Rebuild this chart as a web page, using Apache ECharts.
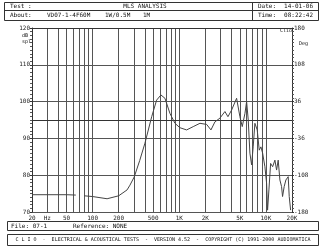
<!DOCTYPE html>
<html><head><meta charset="utf-8">
<script src="https://cdn.jsdelivr.net/npm/echarts@6/dist/echarts.min.js"></script>
<style>html,body{margin:0;padding:0;background:#fff}#c{width:325px;height:250px}</style>
</head><body><div id="c"></div>
<script>
// ---- data (frequency in Hz, level in dB SPL); null = gap in trace
const freqHz = [20, 30, 40, 50, 64, 70, 80, 100, 147, 200, 250, 270, 302, 350, 402, 481, 548, 615, 684, 781, 892, 1019, 1217, 1450, 1733, 2070, 2322, 2582, 2946, 3366, 3647, 4019, 4590, 5012, 5333, 5728, 5990, 6254, 6535, 6839, 7131, 7464, 7938, 8374, 8758, 9162, 9735, 10185, 10450, 10831, 11332, 11955, 12700, 13280, 13860, 14500, 15160, 15560, 16250, 17000, 18080, 18580, 19280];
const splDb = [74.7, 74.7, 74.7, 74.7, 74.6, null, 74.4, 74.2, 73.6, 74.4, 76.0, 77.3, 79.5, 84.0, 88.7, 95.9, 100.4, 101.8, 100.9, 96.8, 94.1, 92.9, 92.3, 93.2, 94.1, 93.8, 92.3, 94.5, 95.5, 97.3, 95.9, 97.7, 100.9, 95.9, 93.2, 96.8, 100.0, 95.0, 86.0, 82.8, 87.7, 94.1, 92.3, 86.8, 87.7, 86.0, 82.3, 77.8, 70.5, 76.0, 83.2, 82.3, 84.1, 81.4, 84.1, 78.7, 76.9, 74.2, 76.9, 78.7, 79.6, 74.2, 70.5];
const gridFreqs = [20,30,40,50,60,70,80,90,100,200,300,400,500,600,700,800,900,1000,2000,3000,4000,5000,6000,7000,8000,9000,10000,20000];
const labelFreqs = [20,30,50,100,200,500,1000,2000,5000,10000,20000];
const labelTexts = ['20','Hz','50','100','200','500','1K','2K','5K','10K','20K'];
const phaseTicks = [-180,-108,-36,36,108,180];

const FONT = 'DejaVu Sans Mono';
const lg = v => Math.log10(v);
const labelMap = {};
labelFreqs.forEach((f,i)=>labelMap[f]=labelTexts[i]);
const seriesData = freqHz.map((f,i)=> splDb[i]==null ? [lg(f),'-'] : [lg(f), splDb[i]]);

const xCommon = {
  type:'value', min:lg(20), max:lg(20000),
  axisLine:{show:true,lineStyle:{color:'#333',width:1}},
  axisTick:{show:false, customValues: gridFreqs.map(lg)},
  splitLine:{show:true,lineStyle:{color:'#555',width:1}},
};
const chart = echarts.init(document.getElementById('c'), null, {renderer:'canvas'});
const txt = (x,y,s,opt)=>Object.assign({type:'text',x:x,y:y,style:Object.assign({text:s,font:'6px '+FONT,fill:'#111',textVerticalAlign:'middle'},opt||{})});
const rect = (x,y,w,h)=>({type:'rect',shape:{x:x,y:y,width:w,height:h},style:{fill:null,stroke:'#333',lineWidth:1}});
const line = (x1,y1,x2,y2)=>({type:'line',shape:{x1:x1,y1:y1,x2:x2,y2:y2},style:{stroke:'#333',lineWidth:1}});
chart.setOption({
  animation:false,
  backgroundColor:'#fff',
  grid:{left:32,right:33,top:28,bottom:38},
  xAxis:[
    Object.assign({}, xCommon, {position:'bottom',
      axisLabel:{show:true, customValues: labelFreqs.map(lg), fontFamily:FONT, fontSize:6, color:'#222', margin:3,
        formatter: v => labelMap[Math.round(Math.pow(10,v))] || ''}}),
    Object.assign({}, xCommon, {position:'top', axisLabel:{show:false}, splitLine:{show:false}})
  ],
  yAxis:[
    {type:'value', min:70, max:120, interval:10, position:'left',
     axisLine:{show:true,lineStyle:{color:'#333'}},
     axisTick:{show:true,length:2,lineStyle:{color:'#333'}},
     minorTick:{show:true,splitNumber:10,length:2,lineStyle:{color:'#555'}},
     axisLabel:{fontFamily:FONT,fontSize:6,color:'#222',margin:2},
     splitLine:{show:true,lineStyle:{color:'#555',width:1}}},
    {type:'value', min:-180, max:180, interval:72, position:'right',
     axisLine:{show:true,lineStyle:{color:'#333'}},
     axisTick:{show:true,length:2,lineStyle:{color:'#333'}},
     minorTick:{show:true,splitNumber:10,length:2,lineStyle:{color:'#555'}},
     axisLabel:{fontFamily:FONT,fontSize:6,color:'#222',margin:2},
     splitLine:{show:false}}
  ],
  series:[{type:'line', xAxisIndex:0, yAxisIndex:0, data:seriesData, showSymbol:false, symbol:'none',
    connectNulls:false, lineStyle:{color:'#444',width:1}}],
  graphic:[
    rect(4.5,2.5,314,18), line(4.5,10.5,318.5,10.5), line(252.5,2.5,252.5,20.5),
    txt(10,6.5,'Test :'), txt(145,6.5,'MLS ANALYSIS',{textAlign:'center'}),
    txt(10,15.5,'About:'), txt(47,15.5,'VD07-1-4F60M'), txt(105,15.5,'1W/0.5M'), txt(143,15.5,'1M'),
    txt(258,6.5,'Date:'), txt(313,6.5,'14-01-06',{textAlign:'right'}),
    txt(258,15.5,'Time:'), txt(313,15.5,'08:22:42',{textAlign:'right'}),
    txt(22,36,'dB',{font:'5px '+FONT}), txt(22,42,'spl',{font:'5px '+FONT}),
    txt(299,44,'Deg',{font:'5px '+FONT}), txt(280,31,'Clio',{font:'5px '+FONT}),
    rect(7.5,221.5,311,9), txt(11,226,'File: 07-1'), txt(73,226,'Reference: NONE'),
    rect(7.5,234.5,311,11), txt(163,240,'C L I O  -  ELECTRICAL & ACOUSTICAL TESTS  -  VERSION 4.52  -  COPYRIGHT (C) 1991-2000 AUDIOMATICA',{textAlign:'center',font:'5px '+FONT})
  ]
});
</script></body></html>
